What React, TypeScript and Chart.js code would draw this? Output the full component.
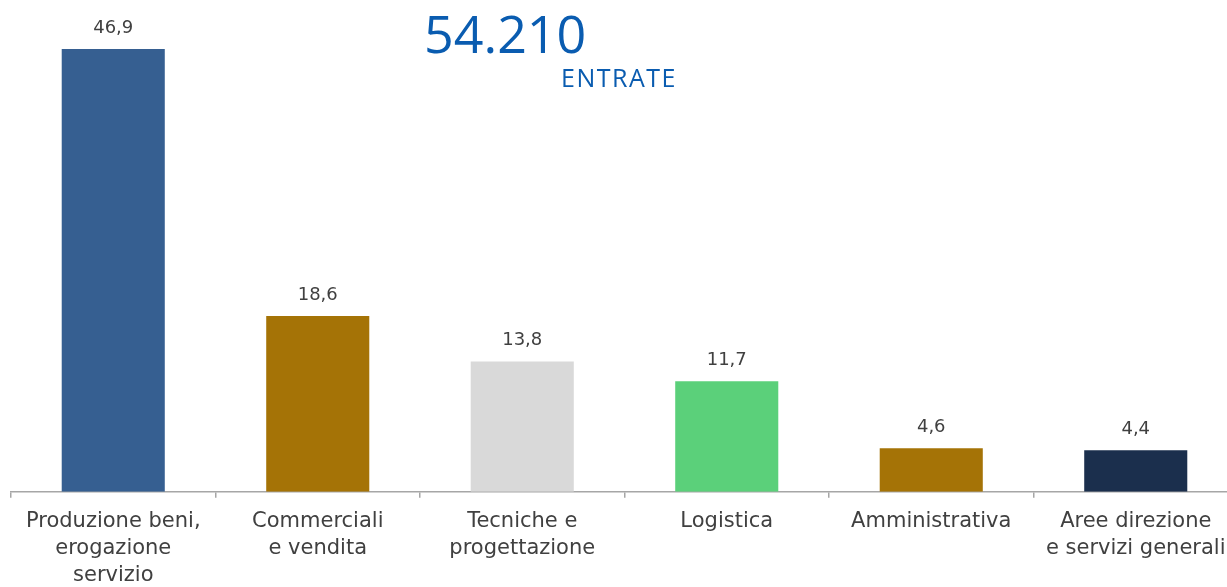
import React, { useEffect, useRef } from "react";
import { Chart, registerables } from "chart.js";

Chart.register(...registerables);

const categories: string[][] = [
  ["Produzione beni,", "erogazione", "servizio"],
  ["Commerciali", "e vendita"],
  ["Tecniche e", "progettazione"],
  ["Logistica"],
  ["Amministrativa"],
  ["Aree direzione", "e servizi generali"],
];
const values: number[] = [46.9, 18.6, 13.8, 11.7, 4.6, 4.4];
const barColors: string[] = ["#365F91", "#A57306", "#D9D9D9", "#5BD07A", "#A57306", "#1B2F4D"];
const totalLabel = "54.210";
const totalCaption = "ENTRATE";

const valueLabelsPlugin = {
  id: "valueLabels",
  afterDatasetsDraw(chart: any) {
    const ctx = chart.ctx;
    const meta = chart.getDatasetMeta(0);
    ctx.save();
    ctx.font = "18px 'DejaVu Sans'";
    ctx.fillStyle = "#404040";
    ctx.textAlign = "center";
    ctx.textBaseline = "alphabetic";
    meta.data.forEach((bar: any, i: number) => {
      ctx.fillText(values[i].toFixed(1).replace(".", ","), bar.x, bar.y - 16);
    });
    ctx.restore();
  },
};

const headerPlugin = {
  id: "header",
  afterDraw(chart: any) {
    const ctx = chart.ctx;
    ctx.save();
    ctx.fillStyle = "#0A5CB0";
    ctx.textBaseline = "alphabetic";
    ctx.textAlign = "left";
    ctx.font = "52px 'Open Sans'";
    ctx.fillText(totalLabel, 424, 53);
    ctx.font = "25px 'Open Sans'";
    try { (ctx as any).letterSpacing = "1.5px"; } catch (e) {}
    ctx.fillText(totalCaption, 561, 87);
    ctx.restore();
  },
};

export default function App() {
  const ref = useRef<HTMLCanvasElement>(null);
  useEffect(() => {
    if (!ref.current) return;
    const chart = new Chart(ref.current, {
      type: "bar",
      data: {
        labels: categories,
        datasets: [
          {
            data: values,
            backgroundColor: barColors,
            borderWidth: 0,
            barPercentage: 0.504,
            categoryPercentage: 1,
          },
        ],
      },
      options: {
        responsive: false,
        animation: false,
        layout: { padding: { left: 11, right: 12, top: 0, bottom: 0 } },
        plugins: { legend: { display: false }, tooltip: { enabled: false } },
        scales: {
          x: {
            offset: true,
            border: { display: true, color: "#A6A6A6", width: 1.5 },
            grid: {
              offset: true,
              drawOnChartArea: false,
              drawTicks: true,
              tickLength: 6,
              color: "#A6A6A6",
              lineWidth: 1.5,
            },
            ticks: {
              color: "#404040",
              font: { family: "'DejaVu Sans'", size: 21, lineHeight: 1.29 },
              padding: 10,
              maxRotation: 0,
              autoSkip: false,
            },
          },
          y: { display: false, min: 0, max: 52.08 },
        },
      },
      plugins: [valueLabelsPlugin, headerPlugin],
    });
    return () => chart.destroy();
  }, []);
  return (
    <div style={{ position: "fixed", left: 0, top: 0, width: 1227, height: 587, overflow: "hidden", background: "#fff" }}>
      <canvas ref={ref} width={1250} height={599} style={{ width: 1250, height: 599, display: "block" }} />
    </div>
  );
}
